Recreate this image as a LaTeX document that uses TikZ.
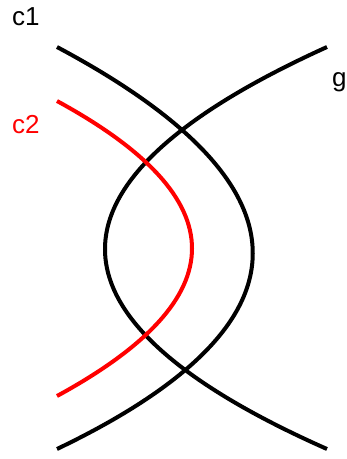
\documentclass[tikz,border=0pt]{standalone}
\usepackage{fontspec}
\setmainfont{Liberation Sans}

\begin{document}
\begin{tikzpicture}[
  x=1pt, y=-1pt,
  curve/.style={line width=4pt, draw=black},
  redcurve/.style={curve, draw=red},
  lbl/.style={anchor=base west, inner sep=0pt, font=\fontsize{26}{30}\selectfont},
]
\useasboundingbox (0,0) rectangle (347,459);

% ---------------------------------------------------------------- end points
\coordinate (c1top) at (57,47);
\coordinate (c1bot) at (57,449);
\coordinate (gtop)  at (327,47);
\coordinate (gbot)  at (327,449);
\coordinate (c2top) at (57,101);
\coordinate (c2bot) at (57,396);

% -------------------------------------------------------------------- curves
\draw[curve]    (c1top) .. controls (318,186) and (318,324) .. (c1bot);
\draw[curve]    (gtop)  .. controls (31,181) and (31,318)   .. (gbot);
\draw[redcurve] (c2top) .. controls (237,199) and (237,298) .. (c2bot);

% -------------------------------------------------------------------- labels
\node[lbl]           (c1lbl) at (12,25)  {c1};
\node[lbl, text=red] (c2lbl) at (12,133) {c2};
\node[lbl]           (glbl)  at (332,86) {g};

\end{tikzpicture}
\end{document}
